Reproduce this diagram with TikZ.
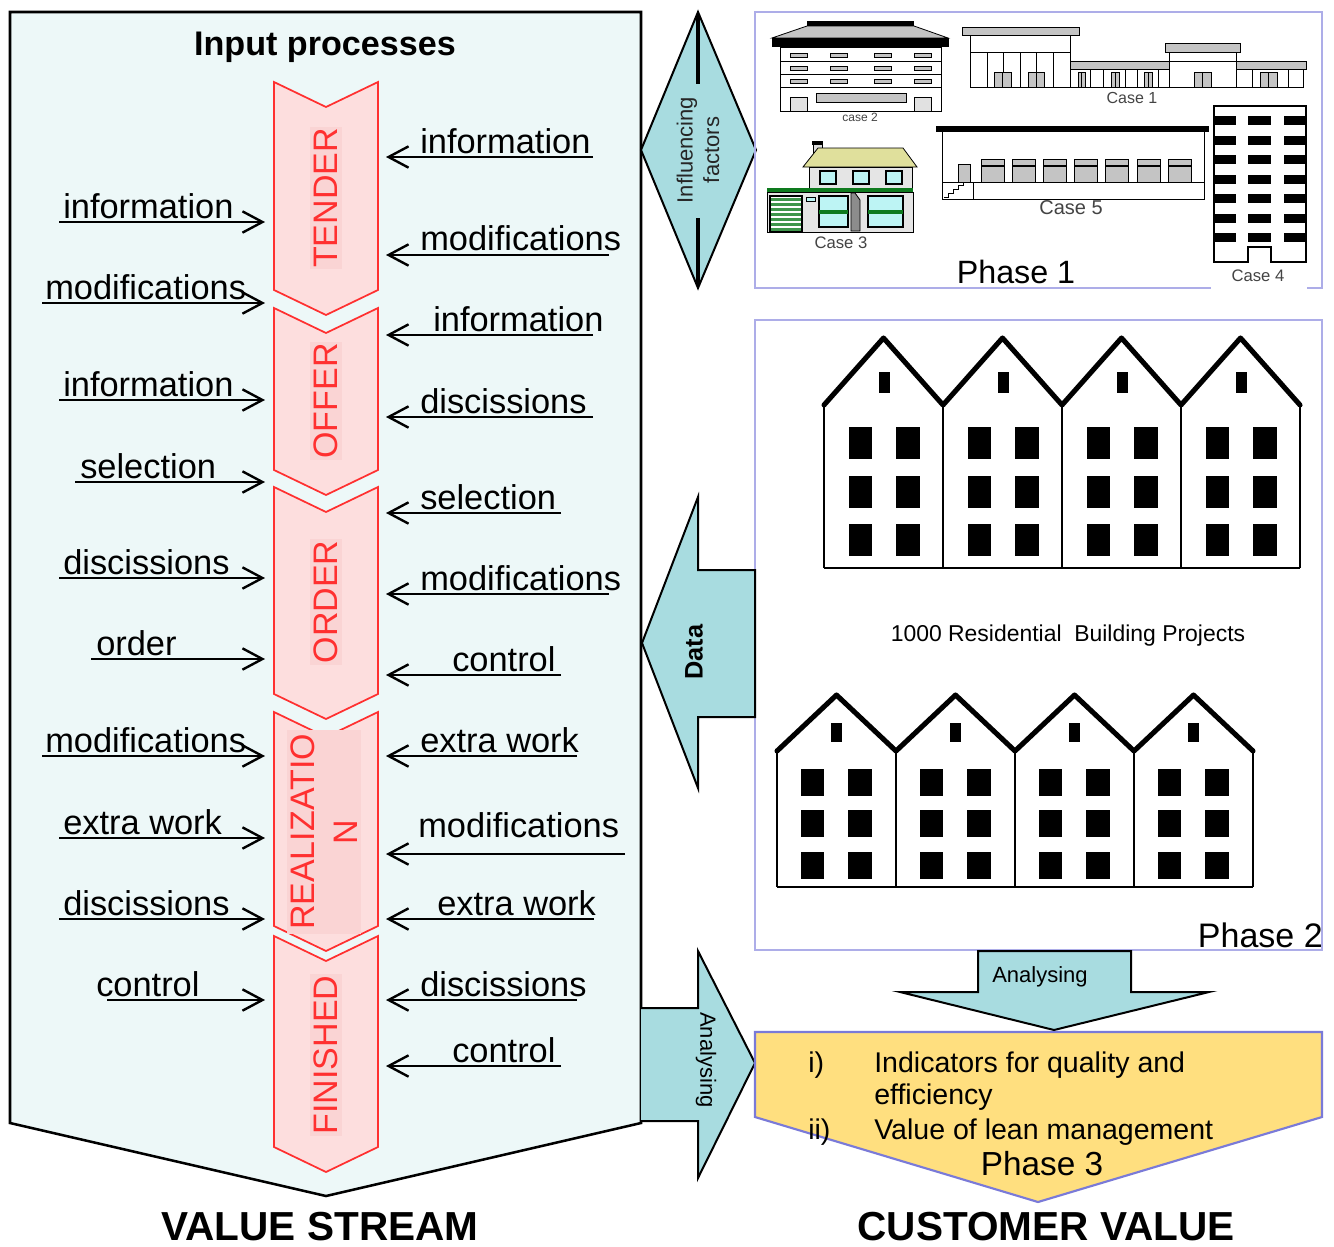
\documentclass[tikz,border=0pt]{standalone}
\usepackage{fontspec}
\setmainfont{Liberation Sans}
\usetikzlibrary{arrows.meta}
\definecolor{panelfill}{HTML}{EDF8F8}
\definecolor{tealfill}{HTML}{A8DCE0}
\definecolor{chevfill}{HTML}{FDDEDE}
\definecolor{chevbg}{HTML}{FAD4D4}
\definecolor{chevred}{HTML}{FF3030}
\definecolor{goldfill}{HTML}{FFDF7F}
\definecolor{lavender}{HTML}{ADADE8}
\definecolor{purpleline}{HTML}{7A7AD8}
\definecolor{bldgray}{HTML}{C4C4C4}
\definecolor{casegray}{HTML}{444444}
\definecolor{roofyel}{HTML}{E0E09C}
\definecolor{winblue}{HTML}{BDF4F4}
\definecolor{dkgreen}{HTML}{0E7A1E}
\begin{document}
\begin{tikzpicture}[x=0.75pt,y=-0.75pt,
  lbl/.style={font=\fontsize{25.8}{28}\selectfont, inner sep=0pt, anchor=base west},
  inarrow/.style={line width=1.8pt, -{Straight Barb[length=15pt,width=16pt]}},
  chev/.style={draw=chevred, fill=chevfill, line width=1.3pt, line join=miter},
  chevtxt/.style={rotate=90, text=chevred, fill=chevbg, font=\fontsize{25.5}{32}\selectfont, inner xsep=1pt, inner ysep=3pt},
  tealshape/.style={draw=black, fill=tealfill, line width=1.5pt, line join=miter},
  phasebox/.style={draw=lavender, line width=1.6pt},
  casetxt/.style={text=casegray, inner sep=0pt},
  bld/.style={draw=black, line width=0.6pt},
  roofline/.style={line width=3.8pt, line join=round, line cap=round},
  wall/.style={line width=1.5pt},
  ptxt/.style={font=\fontsize{21.4}{24}\selectfont, anchor=base west, inner sep=0pt}
]
\useasboundingbox (0,0) rectangle (1334,1246);
\fill[white] (0,0) rectangle (1334,1246);

% ---------------- value stream panel
\draw[fill=panelfill, line width=1.9pt, line join=miter] (10,12) -- (641,12) -- (641,1123) -- (326,1196) -- (10,1123) -- cycle;
\node[font=\bfseries\fontsize{25.6}{30}\selectfont, anchor=base] (title) at (325,55) {Input processes};

% chevrons
\foreach \tp/\bt in {82/290, 308/470, 487/694, 712/926, 936/1147} {
  \draw[chev] (274,\tp) -- (326,\tp+25) -- (378,\tp) -- (378,\bt) -- (326,\bt+25) -- (274,\bt) -- cycle;
}
\node[chevtxt] (tender) at (326,198) {TENDER};
\node[chevtxt] (offer) at (326,401) {OFFER};
\node[chevtxt] (order) at (326,602) {ORDER};
\node[chevtxt, align=center, inner xsep=3pt] (real) at (324,832) {REALIZATIO\\N};
\node[chevtxt] (fin) at (326,1055) {FINISHED};

% left inputs
\foreach \n/\txt/\tx/\ly/\sx in {1/information/63/222/59, 2/modifications/45/303/42, 3/information/63/400/59, 4/selection/80/482/75, 5/discissions/63/578/59, 6/order/96/659/91, 7/modifications/45/756/42, 8/extra work/63/838/59, 9/discissions/63/919/59, 10/control/96/1000/107} {
  \coordinate (L\n s) at (\sx,\ly);
  \coordinate (L\n e) at (265,\ly);
  \node[lbl] (L\n) at (\tx,\ly-4) {\txt};
  \draw[inarrow] (L\n s) -- (L\n e);
}
% right inputs
\foreach \n/\txt/\tx/\ly/\ex/\off in {1/information/420/157/593/4, 2/modifications/420/255/609/5, 3/information/433/335/593/4, 4/discissions/420/417/593/4, 5/selection/420/513/561/4, 6/modifications/420/594/609/4, 7/control/452/675/561/4, 8/extra work/420/756/577/4, 9/modifications/418/854/625/17, 10/extra work/437/919/594/4, 11/discissions/420/1000/577/4, 12/control/452/1066/561/4} {
  \coordinate (R\n s) at (\ex,\ly);
  \coordinate (R\n e) at (386,\ly);
  \node[lbl] (R\n) at (\tx,\ly-\off) {\txt};
  \draw[inarrow] (R\n s) -- (R\n e);
}

% ---------------- influencing factors diamond
\draw[tealshape] (698,12) -- (756,150) -- (698,288) -- (641,150) -- cycle;
\draw[line width=2.6pt] (698,14) -- (698,84);
\draw[line width=2.6pt] (698,218) -- (698,286);
\node[rotate=90, align=center, font=\fontsize{16.5}{20}\selectfont, text=black!85, inner sep=1pt] (infl) at (698,150) {Influencing\\factors};

% ---------------- phase 1 box
\draw[phasebox] (755,12) rectangle (1322,288);
% case 2
\fill[black] (807,21) rectangle (914,26);
\draw[bld, fill=bldgray] (807,26) -- (914,26) -- (948,38) -- (772,38) -- cycle;
\fill[black] (772,38) rectangle (949,47);
\draw[bld, fill=white] (780,47) rectangle (941,111);
\foreach \yy in {61,74,87} { \draw[bld] (780,\yy) -- (941,\yy); }
\foreach \yy in {53,66,79} { \foreach \xx in {790,830,874,914} { \draw[bld, fill=bldgray] (\xx,\yy) rectangle (\xx+17,\yy+4); } }
\draw[bld, fill=bldgray] (816,93) rectangle (906,102);
\draw[bld, fill=bldgray!50] (790,97) rectangle (807,111);
\draw[bld, fill=bldgray!50] (914,97) rectangle (931,111);
\node[casetxt, font=\fontsize{9}{10}\selectfont] (c2) at (860,117) {case 2};
% case 1
\draw[bld, fill=bldgray] (962,27) rectangle (1079,35);
\draw[bld, fill=white] (970,35) rectangle (1070,87);
\draw[bld] (970,52) -- (1070,52);
\foreach \xx in {987,1003,1020,1036,1053} { \draw[bld] (\xx,52) -- (\xx,87); }
\draw[bld, fill=bldgray] (1070,61) rectangle (1169,69);
\draw[bld, fill=white] (1070,69) rectangle (1169,87);
\foreach \xx in {1090,1103,1125,1137,1158} { \draw[bld] (\xx,69) -- (\xx,87); }
\draw[bld, fill=bldgray] (1165,43) rectangle (1240,52);
\draw[bld, fill=white] (1169,52) rectangle (1236,87);
\draw[bld] (1169,61) -- (1236,61);
\draw[bld, fill=bldgray] (1236,61) rectangle (1306,69);
\draw[bld, fill=white] (1236,69) rectangle (1303,87);
\foreach \xx in {1252,1288} { \draw[bld] (\xx,69) -- (\xx,87); }
\foreach \xa/\xb in {994/1011, 1028/1044, 1078/1085, 1111/1119, 1144/1152, 1194/1211, 1260/1277} {
  \draw[bld, fill=bldgray] (\xa,72) rectangle (\xb,87);
  \draw[bld] ({(\xa+\xb)/2},72) -- ({(\xa+\xb)/2},87);
}
\node[casetxt, font=\fontsize{12}{14}\selectfont] (c1) at (1132,98) {Case 1};
% case 3
\draw[bld, fill=bldgray!60] (813,144) rectangle (822,154);
\fill[black] (812,141) rectangle (823,145);
\draw[bld, fill=roofyel] (818,148) -- (903,148) -- (917,167) -- (803,167) -- cycle;
\draw[bld, fill=black!10] (809,167) rectangle (912,190);
\foreach \xx in {820,853,886} { \draw[line width=1pt, fill=winblue] (\xx,171) rectangle (\xx+16,184); }
\draw[bld, fill=black!10] (767,192) rectangle (913,232);
\fill[dkgreen] (767,188) rectangle (913,192);
\draw[line width=1pt, fill=white] (770,196) rectangle (802,231);
\foreach \yy in {198,203,...,228} { \fill[dkgreen!80] (771,\yy) rectangle (801,\yy+2.6); }
\draw[bld, fill=winblue] (806,197) rectangle (815,201);
\draw[line width=0.8pt, fill=winblue] (819,196) rectangle (848,227);
\fill[dkgreen] (819,210) rectangle (848,214);
\draw[line width=0.8pt, fill=winblue] (868,196) rectangle (903,227);
\fill[dkgreen] (868,210) rectangle (903,214);
\draw[bld, fill=black!45] (851,193) -- (855,193) -- (860,200) -- (860,231) -- (851,231) -- cycle;
\node[casetxt, font=\fontsize{12.5}{14}\selectfont] (c3) at (841,243) {Case 3};
% case 5
\fill[black] (936,126) rectangle (1209,132);
\draw[bld] (942,132) -- (942,199) -- (1204,199) -- (1204,132);
\draw[bld] (942,182) -- (1204,182);
\draw[bld] (973,182) -- (973,199);
\draw[bld] (944,197) -- (948,197) -- (948,193) -- (953,193) -- (953,189) -- (958,189) -- (958,185) -- (963,185) -- (963,182);
\draw[bld, fill=bldgray] (958,164) rectangle (970,182);
\foreach \xx in {981,1012,1043,1074,1105,1137,1168} {
  \draw[bld, fill=bldgray] (\xx,159) rectangle (\xx+23,182);
  \draw[line width=1pt] (\xx,166) -- (\xx+23,166);
}
\node[casetxt, font=\fontsize{15}{17}\selectfont] (c5) at (1071,208) {Case 5};
% case 4
\draw[line width=0.9pt, fill=white] (1214,106) -- (1306,106) -- (1306,262) -- (1271,262) -- (1271,247) -- (1248,247) -- (1248,262) -- (1214,262) -- cycle;
\foreach \i in {0,...,6} {
  \foreach \xa/\xb in {1214/1236, 1248/1271, 1284/1306} {
    \fill[black] (\xa,116+19.5*\i) rectangle (\xb,125+19.5*\i);
  }
}
\fill[white] (1211,265) rectangle (1307,290);
\node[casetxt, font=\fontsize{12.5}{14}\selectfont] (c4) at (1258,276) {Case 4};
\node[font=\fontsize{24.2}{28}\selectfont, anchor=base, inner sep=0pt] (ph1) at (1016,283) {Phase 1};

% ---------------- phase 2 box
\draw[phasebox] (755,320) rectangle (1322,950);
% row 1 houses
\draw[roofline] (824,405) -- (883.5,338) -- (943,405) -- (1002.5,338) -- (1062,405) -- (1121.5,338) -- (1181,405) -- (1240.5,338) -- (1300,405);
\foreach \i [evaluate=\i as \xo using 824+119*\i] in {0,1,2,3} {
  \fill[black] (\xo+55,372) rectangle (\xo+66,393);
  \foreach \yy in {427,476,524} {
    \fill[black] (\xo+25,\yy) rectangle (\xo+48,\yy+32);
    \fill[black] (\xo+72,\yy) rectangle (\xo+96,\yy+32);
  }
}
\foreach \xx in {824,943,1062,1181,1300} { \draw[wall] (\xx,405) -- (\xx,568); }
\draw[wall] (824,568) -- (1300,568);
\node[font=\fontsize{17.2}{20}\selectfont, inner sep=0pt] (proj) at (1068,636) {1000 Residential\ \ Building Projects};
% row 2 houses
\draw[roofline] (777,751) -- (836.5,695) -- (896,751) -- (955.5,695) -- (1015,751) -- (1074.5,695) -- (1134,751) -- (1193.5,695) -- (1253,751);
\foreach \i [evaluate=\i as \xo using 777+119*\i] in {0,1,2,3} {
  \fill[black] (\xo+54,723) rectangle (\xo+65,742);
  \foreach \yy in {769,810,852} {
    \fill[black] (\xo+24,\yy) rectangle (\xo+47,\yy+27);
    \fill[black] (\xo+71,\yy) rectangle (\xo+95,\yy+27);
  }
}
\foreach \xx in {777,896,1015,1134,1253} { \draw[wall] (\xx,751) -- (\xx,887); }
\draw[wall] (777,887) -- (1253,887);
\node[font=\fontsize{25.5}{28}\selectfont, anchor=base east, inner sep=0pt] (ph2) at (1323,947) {Phase 2};

% ---------------- data arrow
\draw[tealshape] (755,570) -- (698,570) -- (698,497) -- (642,643) -- (698,788) -- (698,717) -- (755,717) -- cycle;
\node[rotate=90, font=\bfseries\fontsize{19}{22}\selectfont] (data) at (694,652) {Data};

% ---------------- analysing arrow (right)
\fill[tealfill] (641,1008) -- (698,1008) -- (698,951) -- (755,1063) -- (698,1178) -- (698,1121) -- (641,1121) -- cycle;
\draw[line width=1.5pt, line join=miter] (641,1008) -- (698,1008) -- (698,951) -- (755,1063) -- (698,1178) -- (698,1121) -- (641,1121);
\node[rotate=-90, font=\fontsize{16.5}{20}\selectfont] (an1) at (706,1060) {Analysing};

% ---------------- phase 3
\draw[fill=goldfill, draw=purpleline, line width=1.6pt, line join=miter] (755,1032) -- (1322,1032) -- (1322,1117) -- (1038,1202) -- (755,1117) -- cycle;
\draw[tealshape] (978,951) -- (1131,951) -- (1131,992) -- (1209,992) -- (1054,1030) -- (900,992) -- (978,992) -- cycle;
\node[font=\fontsize{16.5}{20}\selectfont] (an2) at (1040,977) {Analysing};
\node[ptxt] (i1) at (808,1072) {i)};
\node[ptxt] (t1) at (874,1072) {Indicators for quality and};
\node[ptxt] (t2) at (874,1104) {efficiency};
\node[ptxt] (i2) at (808,1139) {ii)};
\node[ptxt] (t3) at (874,1139) {Value of lean management};
\node[font=\fontsize{25}{28}\selectfont, anchor=base, inner sep=0pt] (ph3) at (1042,1175) {Phase 3};

% ---------------- bottom titles
\node[font=\bfseries\fontsize{30.4}{36}\selectfont, anchor=base, inner sep=0pt] (vs) at (320,1240) {VALUE STREAM};
\node[font=\bfseries\fontsize{30.4}{36}\selectfont, anchor=base, inner sep=0pt] (cv) at (1046,1240) {CUSTOMER VALUE};
\end{tikzpicture}
\end{document}
